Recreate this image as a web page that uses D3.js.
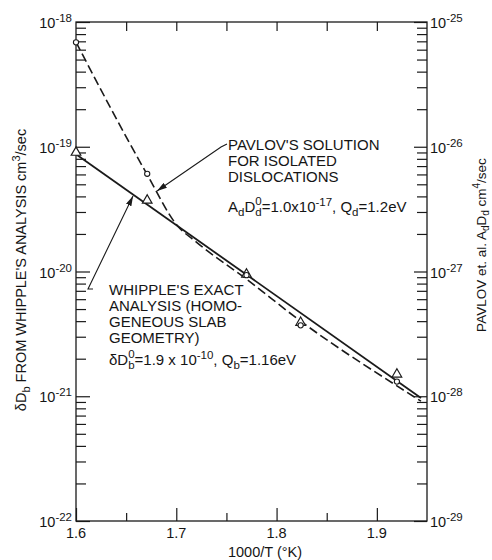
<!DOCTYPE html>
<html>
<head>
<meta charset="utf-8">
<script src="https://cdn.jsdelivr.net/npm/d3@7"></script>
<style>
    html, body { margin: 0; padding: 0; background: #fff; }
    svg text { font-family: "Liberation Sans", Arial, sans-serif; fill: #151515; }
</style>
</head>
<body>
<svg id="chart" width="492" height="560"></svg>
<script>
// Tick values
const xMajorTicks = [1.6, 1.7, 1.8, 1.9];
const xMinorTicks = [1.65, 1.75, 1.85];
const leftDecades = [-22, -21, -20, -19, -18];
const rightDecades = [-29, -28, -27, -26, -25];

// Measured points (1000/T)
const invTemp = [1.600, 1.671, 1.770, 1.824, 1.920];
const whippleDb = [9.0e-20, 3.72e-20, 9.5e-21, 3.9e-21, 1.50e-21];   // triangles, left axis
const pavlovAdDd = [6.87e-26, 6.07e-27, 9.35e-28, 3.7e-28, 1.31e-28]; // circles, right axis

// Whipple's exact analysis (solid line, left axis)
const whippleFitX = [1.6, 1.944];
const whippleFitY = [8.7e-20, 9.7e-22];

// Pavlov's solution for isolated dislocations (dashed line, right axis)
const pavlovCurveX = [1.6, 1.6707, 1.7007, 1.72, 1.77, 1.824, 1.92, 1.944];
const pavlovCurveY = [6.9e-26, 6.04e-27, 2.35e-27, 1.72e-27, 8.69e-28, 4.0e-28, 1.21e-28, 9.14e-29];

window.addEventListener('DOMContentLoaded', () => {
    const svg = d3.select('#chart');
    const left = 76, right = 427, top = 22, bottom = 521;
    const ink = '#1a1a1a';

    const x = d3.scaleLinear().domain([1.6, 1.95]).range([left, right]);
    const yL = d3.scaleLog().domain([1e-22, 1e-18]).range([bottom, top]);
    const yR = d3.scaleLog().domain([1e-29, 1e-25]).range([bottom, top]);

    // arrowhead marker
    svg.append('defs').append('marker')
        .attr('id', 'arrow')
        .attr('viewBox', '0 0 10 6')
        .attr('refX', 10).attr('refY', 3)
        .attr('markerWidth', 10).attr('markerHeight', 6)
        .attr('markerUnits', 'userSpaceOnUse')
        .attr('orient', 'auto')
        .append('path')
        .attr('d', 'M0,0 L10,3 L0,6 Z')
        .attr('fill', ink);

    // helper: style an axis group
    function styleAxis(g) {
        g.select('.domain').remove();
        g.selectAll('.tick line').attr('stroke', ink).attr('stroke-width', 1.2);
        g.selectAll('.tick text').remove();
    }

    // minor log ticks (2..9 in every decade)
    const minorL = yL.ticks().filter(v => Math.abs(Math.log10(v) % 1) > 1e-6);
    const minorR = yR.ticks().filter(v => Math.abs(Math.log10(v) % 1) > 1e-6);

    svg.append('g').attr('transform', `translate(${left},0)`)
        .call(d3.axisLeft(yL).tickValues(minorL).tickSize(-10).tickSizeOuter(0)).call(styleAxis);
    svg.append('g').attr('transform', `translate(${left},0)`)
        .call(d3.axisLeft(yL).tickValues(leftDecades.map(d => Math.pow(10, d))).tickSize(-14).tickSizeOuter(0)).call(styleAxis);

    svg.append('g').attr('transform', `translate(${right},0)`)
        .call(d3.axisRight(yR).tickValues(minorR).tickSize(-10).tickSizeOuter(0)).call(styleAxis);
    svg.append('g').attr('transform', `translate(${right},0)`)
        .call(d3.axisRight(yR).tickValues(rightDecades.map(d => Math.pow(10, d))).tickSize(-13).tickSizeOuter(0)).call(styleAxis);

    svg.append('g').attr('transform', `translate(0,${bottom})`)
        .call(d3.axisBottom(x).tickValues(xMajorTicks).tickSize(-13).tickSizeOuter(0)).call(styleAxis);
    svg.append('g').attr('transform', `translate(0,${bottom})`)
        .call(d3.axisBottom(x).tickValues(xMinorTicks).tickSize(-8).tickSizeOuter(0)).call(styleAxis);
    svg.append('g').attr('transform', `translate(0,${top})`)
        .call(d3.axisTop(x).tickValues(xMajorTicks.concat(xMinorTicks).filter(v => v > 1.6)).tickSize(-9).tickSizeOuter(0)).call(styleAxis);

    // frame
    svg.append('rect')
        .attr('x', left).attr('y', top)
        .attr('width', right - left).attr('height', bottom - top)
        .attr('fill', 'none').attr('stroke', ink).attr('stroke-width', 1.3);

    // power-of-ten labels
    function powerLabel(sel, anchor) {
        sel.attr('text-anchor', anchor).attr('font-size', 14.5);
        sel.append('tspan').text('10');
        sel.append('tspan').attr('dy', -6).attr('font-size', 11.5).text(d => d);
    }
    svg.append('g').selectAll('text').data(leftDecades).join('text')
        .attr('x', left - 4).attr('y', d => yL(Math.pow(10, d)) + 6)
        .call(powerLabel, 'end');
    svg.append('g').selectAll('text').data(rightDecades).join('text')
        .attr('x', right + 3).attr('y', d => yR(Math.pow(10, d)) + 6)
        .call(powerLabel, 'start');

    // x tick labels
    svg.append('g').selectAll('text').data(xMajorTicks).join('text')
        .attr('x', d => x(d)).attr('y', bottom + 17)
        .attr('text-anchor', 'middle').attr('font-size', 14.5)
        .text(d => d.toFixed(1));

    // axis titles
    svg.append('text')
        .attr('x', 265).attr('y', 557)
        .attr('text-anchor', 'middle').attr('font-size', 14.5)
        .text('1000/T (°K)');

    const yTitle = svg.append('text')
        .attr('transform', 'translate(26,270) rotate(-90)')
        .attr('text-anchor', 'middle').attr('font-size', 14.5);
    yTitle.append('tspan').text('δD');
    yTitle.append('tspan').attr('dy', 4).attr('font-size', 11).text('b');
    yTitle.append('tspan').attr('dy', -4).text(' FROM WHIPPLE\'S ANALYSIS cm');
    yTitle.append('tspan').attr('dy', -6).attr('font-size', 11).text('3');
    yTitle.append('tspan').attr('dy', 6).text('/sec');

    const rTitle = svg.append('text')
        .attr('transform', 'translate(486,245) rotate(-90)')
        .attr('text-anchor', 'middle').attr('font-size', 13.5);
    rTitle.append('tspan').text('PAVLOV et. al. A');
    rTitle.append('tspan').attr('dy', 3).attr('font-size', 10).text('d');
    rTitle.append('tspan').attr('dy', -3).text('D');
    rTitle.append('tspan').attr('dy', 3).attr('font-size', 10).text('d');
    rTitle.append('tspan').attr('dy', -3).text(' cm');
    rTitle.append('tspan').attr('dy', -6).attr('font-size', 10).text('4');
    rTitle.append('tspan').attr('dy', 6).text('/sec');

    // lines
    const lineL = d3.line().x(d => x(d[0])).y(d => yL(d[1]));
    const lineR = d3.line().x(d => x(d[0])).y(d => yR(d[1])).curve(d3.curveMonotoneX);

    svg.append('path')
        .datum(d3.zip(whippleFitX, whippleFitY))
        .attr('d', lineL)
        .attr('fill', 'none').attr('stroke', ink).attr('stroke-width', 1.8);

    svg.append('path')
        .datum(d3.zip(pavlovCurveX, pavlovCurveY))
        .attr('d', lineR)
        .attr('fill', 'none').attr('stroke', ink).attr('stroke-width', 1.6)
        .attr('stroke-dasharray', '9,4');

    // markers
    const tri = d3.symbol().type(d3.symbolTriangle).size(40);
    svg.append('g').selectAll('path').data(d3.zip(invTemp, whippleDb)).join('path')
        .attr('transform', d => `translate(${x(d[0])},${yL(d[1])})`)
        .attr('d', tri)
        .attr('fill', '#fff').attr('stroke', ink).attr('stroke-width', 1.2);

    svg.append('g').selectAll('circle').data(d3.zip(invTemp, pavlovAdDd)).join('circle')
        .attr('cx', d => x(d[0])).attr('cy', d => yR(d[1])).attr('r', 2.6)
        .attr('fill', '#fff').attr('stroke', ink).attr('stroke-width', 1.1);

    // annotation leaders
    svg.append('path')
        .attr('d', 'M227,144 L221,147 L157,191')
        .attr('fill', 'none').attr('stroke', ink).attr('stroke-width', 1.1)
        .attr('marker-end', 'url(#arrow)');
    svg.append('path')
        .attr('d', 'M93,289 L88,289 L133,196')
        .attr('fill', 'none').attr('stroke', ink).attr('stroke-width', 1.1)
        .attr('marker-end', 'url(#arrow)');

    // annotation text
    function block(x0, y0, lines) {
        const t = svg.append('text').attr('font-size', 15);
        lines.forEach((s, i) => t.append('tspan').attr('x', x0).attr('y', y0 + i * 16).text(s));
    }
    block(228, 150, ['PAVLOV\'S SOLUTION', 'FOR ISOLATED', 'DISLOCATIONS']);
    block(109, 295, ['WHIPPLE\'S EXACT', 'ANALYSIS (HOMO-', 'GENEOUS SLAB', 'GEOMETRY)']);

    const eqP = svg.append('text').attr('x', 228).attr('y', 212).attr('font-size', 15);
    eqP.append('tspan').text('A');
    eqP.append('tspan').attr('dy', 4).attr('font-size', 11.5).text('d');
    eqP.append('tspan').attr('dy', -4).text('D');
    eqP.append('tspan').attr('dy', -7).attr('font-size', 11.5).text('0');
    eqP.append('tspan').attr('dx', -6.4).attr('dy', 11).attr('font-size', 11.5).text('d');
    eqP.append('tspan').attr('dy', -4).text('=1.0x10');
    eqP.append('tspan').attr('dy', -6).attr('font-size', 11.5).text('-17');
    eqP.append('tspan').attr('dy', 6).text(', Q');
    eqP.append('tspan').attr('dy', 4).attr('font-size', 11.5).text('d');
    eqP.append('tspan').attr('dy', -4).text('=1.2eV');

    const eqW = svg.append('text').attr('x', 109).attr('y', 365).attr('font-size', 15);
    eqW.append('tspan').text('δD');
    eqW.append('tspan').attr('dy', -7).attr('font-size', 11.5).text('0');
    eqW.append('tspan').attr('dx', -6.4).attr('dy', 11).attr('font-size', 11.5).text('b');
    eqW.append('tspan').attr('dy', -4).text('=1.9 x 10');
    eqW.append('tspan').attr('dy', -6).attr('font-size', 11.5).text('-10');
    eqW.append('tspan').attr('dy', 6).text(', Q');
    eqW.append('tspan').attr('dy', 4).attr('font-size', 11.5).text('b');
    eqW.append('tspan').attr('dy', -4).text('=1.16eV');
});
</script>
</body>
</html>
